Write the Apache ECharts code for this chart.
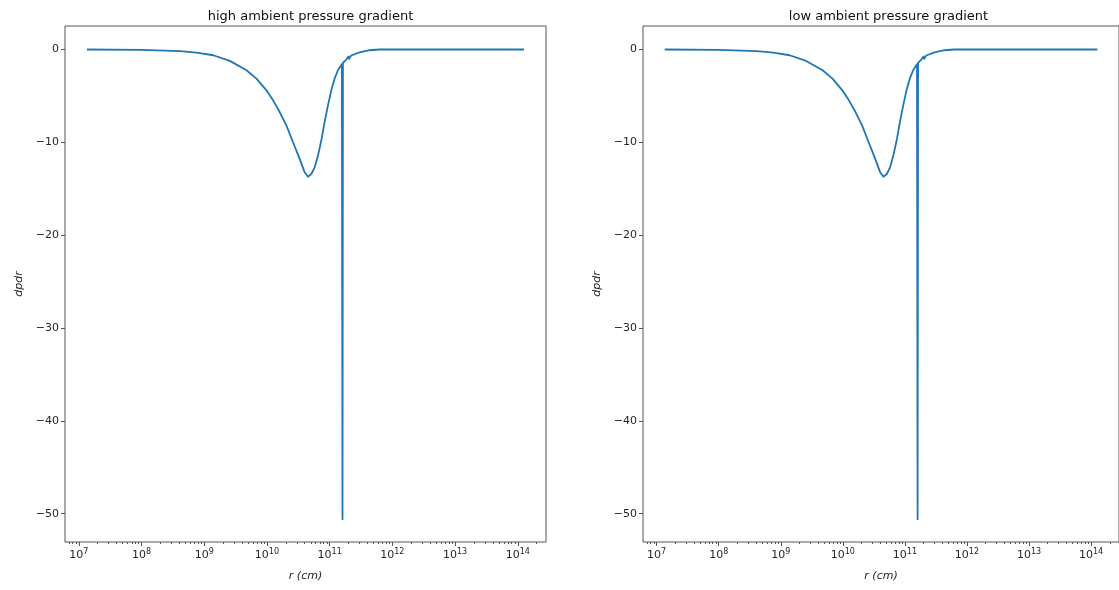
<!DOCTYPE html>
<html>
<head>
<meta charset="utf-8">
<script src="https://cdn.jsdelivr.net/npm/echarts@6/dist/echarts.min.js"></script>
<style>
    body { margin: 0; background: #fff; }
    #chart { width: 1119px; height: 590px; }
</style>
</head>
<body>
<div id="chart"></div>
<script>
// log10 of r (cm)
const logR = [7.13, 8.0, 8.613, 8.879, 9.143, 9.409, 9.674, 9.833, 9.992, 10.098, 10.204, 10.31, 10.416,
    10.522, 10.602, 10.654, 10.708, 10.761, 10.814, 10.867, 10.92, 10.973, 11.026, 11.079, 11.132,
    11.195, 11.205, 11.212, 11.265, 11.30, 11.31, 11.344, 11.477, 11.636, 11.795, 13.0, 14.10];
const dpdrHigh = [0, -0.04, -0.18, -0.33, -0.62, -1.23, -2.24, -3.14, -4.4, -5.48, -6.74, -8.18, -9.99,
    -11.78, -13.23, -13.7, -13.41, -12.69, -11.43, -9.81, -7.82, -6.02, -4.4, -3.14, -2.24,
    -1.59, -50.6, -1.45, -1.08, -0.75, -1.0, -0.65, -0.32, -0.08, 0, 0, 0];
const dpdrLow = [0, -0.04, -0.18, -0.33, -0.62, -1.23, -2.24, -3.14, -4.4, -5.48, -6.74, -8.18, -9.99,
    -11.78, -13.23, -13.7, -13.41, -12.69, -11.43, -9.81, -7.82, -6.02, -4.4, -3.14, -2.24,
    -1.59, -50.6, -1.45, -1.08, -0.75, -1.0, -0.65, -0.32, -0.08, 0, 0, 0];
const titles = ['high ambient pressure gradient', 'low ambient pressure gradient'];
const xMajor = [7, 8, 9, 10, 11, 12, 13, 14];
const yTicks = [0, -10, -20, -30, -40, -50];

// minor ticks at 2..9 x 10^n
const xMinor = [];
for (let n = 6; n <= 14; n++) {
    for (let k = 2; k <= 9; k++) {
        const v = n + Math.log10(k);
        if (v > 6.78 && v < 14.45) xMinor.push(v);
    }
}

const font = 'DejaVu Sans';
const frame = '#555';
const txt = '#262626';
const grids = [
    { left: 65, top: 26, width: 481, height: 516 },
    { left: 643, top: 26, width: 481, height: 516 }
];

const xAxes = [];
const yAxes = [];
grids.forEach((g, i) => {
    g.show = true;
    g.borderColor = frame;
    g.borderWidth = 1;
    xAxes.push({
        type: 'value', gridIndex: i, min: 6.78, max: 14.45, position: 'bottom',
        name: 'r (cm)', nameLocation: 'middle', nameGap: 29,
        nameTextStyle: { fontFamily: font, fontSize: 11, fontStyle: 'italic', color: txt },
        axisLine: { show: false, onZero: false },
        splitLine: { show: false },
        axisTick: { customValues: xMajor, length: 4, lineStyle: { color: frame } },
        axisLabel: {
            customValues: xMajor, margin: 6, fontFamily: font, fontSize: 11, color: txt,
            formatter: v => '10{sup|' + v + '}',
            rich: { sup: { fontFamily: font, fontSize: 8, color: txt, padding: [0, 0, 7, 0] } }
        }
    });
    xAxes.push({
        type: 'value', gridIndex: i, min: 6.78, max: 14.45, position: 'bottom',
        axisLine: { show: false, onZero: false }, splitLine: { show: false },
        axisLabel: { show: false },
        axisTick: { customValues: xMinor, length: 2, lineStyle: { color: frame } }
    });
    yAxes.push({
        type: 'value', gridIndex: i, min: -53.05, max: 2.53,
        name: 'dpdr', nameLocation: 'middle', nameGap: 40, nameRotate: 90,
        nameTextStyle: { fontFamily: font, fontSize: 11, fontStyle: 'italic', color: txt },
        axisLine: { show: false, onZero: false },
        splitLine: { show: false },
        axisTick: { customValues: yTicks, length: 4, lineStyle: { color: frame } },
        axisLabel: {
            customValues: yTicks, margin: 6, fontFamily: font, fontSize: 11, color: txt,
            formatter: v => (v < 0 ? '\u2212' + (-v) : '' + v)
        }
    });
});

const option = {
    animation: false,
    title: titles.map((t, i) => ({
        text: t, left: grids[i].left + grids[i].width / 2, top: 5, textAlign: 'center',
        textStyle: { fontFamily: font, fontSize: 13, fontWeight: 'normal', color: '#111' }
    })),
    grid: grids,
    xAxis: xAxes,
    yAxis: yAxes,
    series: [dpdrHigh, dpdrLow].map((vals, i) => ({
        type: 'line', xAxisIndex: i * 2, yAxisIndex: i,
        data: logR.map((x, j) => [x, vals[j]]),
        showSymbol: false,
        lineStyle: { color: '#1f77b4', width: 1.8, join: 'round' }
    }))
};

const chart = echarts.init(document.getElementById('chart'));
chart.setOption(option);
</script>
</body>
</html>
